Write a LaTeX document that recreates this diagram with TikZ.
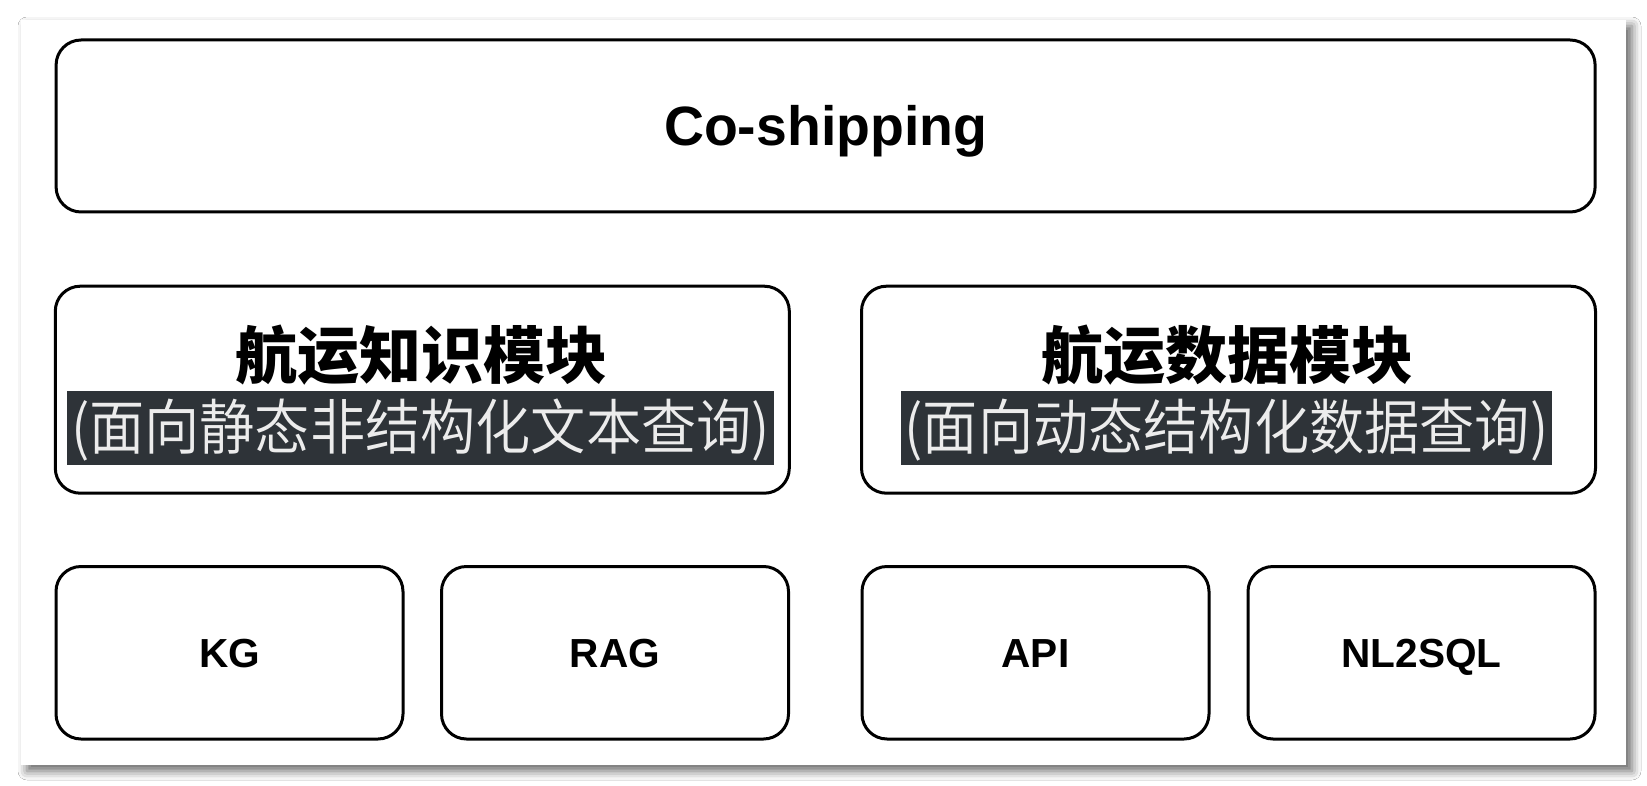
\documentclass[tikz,border=0pt]{standalone}
\usepackage{fontspec}
\setmainfont{Liberation Sans}
\newfontfamily\cjk[BoldFont={Noto Sans CJK SC Black}]{Noto Sans CJK SC}
\newfontfamily\cjklight[FakeStretch=0.92]{Noto Sans CJK SC DemiLight}
\usetikzlibrary{shadows.blur}
\definecolor{subbg}{RGB}{46,51,56}
\definecolor{subfg}{RGB}{236,236,236}
\begin{document}
\begin{tikzpicture}[x=0.5pt,y=-0.5pt,
  box/.style={draw=black, line width=1.5pt, rounded corners=12.5pt, fill=white, inner sep=0pt},
  lat/.style={font=\fontsize{20.3}{24}\selectfont\bfseries, text height=14.5pt, text depth=0pt},
  big/.style={font=\fontsize{27.7}{32}\selectfont\bfseries, text height=19.8pt, text depth=0pt},
  modtitle/.style={font=\cjk\fontsize{31}{36}\selectfont\bfseries, inner sep=0pt},
  modsub/.style={font=\cjklight\fontsize{30}{36}\selectfont, fill=subbg, text=subfg,
    inner xsep=2pt, inner ysep=0pt, text height=26.5pt, text depth=5.5pt, minimum height=37pt}
]
\useasboundingbox (0,0) rectangle (1647,786);
\fill[white] (0,0) rectangle (1647,786);
\fill[white, blur shadow={shadow xshift=3pt, shadow yshift=-3pt, shadow blur radius=4.5pt, shadow opacity=60}]
  (21,20) rectangle (1626,765);

% top
\node[box, big, minimum width=769.5pt, minimum height=86pt] (top) at (825.6,126) {Co-shipping};

% modules
\node[box, minimum width=367pt, minimum height=103.5pt] (knowbox) at (422.3,389.7) {};
\node[box, minimum width=367pt, minimum height=103.5pt] (databox) at (1228.5,389.7) {};
\node[modtitle] (knowtitle) at (421,355) {航运知识模块};
\node[modsub] (knowsub) at (420.5,428) {(面向静态非结构化文本查询)};
\node[modtitle] (datatitle) at (1227,355) {航运数据模块};
\node[modsub] (datasub) at (1226.5,428) {(面向动态结构化数据查询)};

% bottom
\node[box, lat, minimum width=173.5pt, minimum height=86.25pt] (kg) at (229.5,652.75) {KG};
\node[box, lat, minimum width=173.5pt, minimum height=86.25pt] (rag) at (615,652.75) {RAG};
\node[box, lat, minimum width=173.5pt, minimum height=86.25pt] (api) at (1035.5,652.75) {API};
\node[box, lat, minimum width=173.5pt, minimum height=86.25pt] (nl2sql) at (1421.5,652.75) {NL2SQL};
\end{tikzpicture}
\end{document}
